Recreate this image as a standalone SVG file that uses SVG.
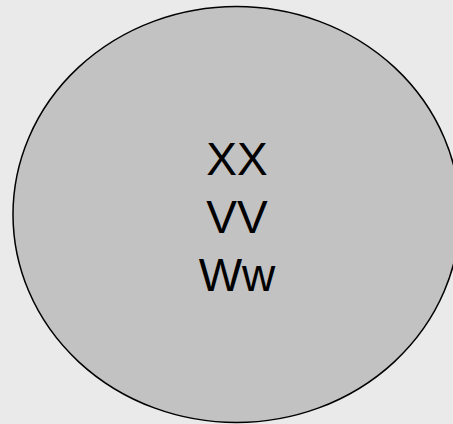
<svg xmlns="http://www.w3.org/2000/svg" width="453" height="424" viewBox="0 0 453 424">
<style>
.bg{fill:#eaeaea}
.shape{fill:#c2c2c2;stroke:#000;stroke-width:1.5}
.lbl{font-family:"Liberation Sans",Arial,sans-serif;font-size:46px;fill:#000;text-anchor:middle}
</style>
<rect class="bg" x="0" y="0" width="453" height="424"/>
<g id="node1">
<ellipse class="shape" cx="236.5" cy="214.5" rx="223.5" ry="208"/>
<text class="lbl" x="237" y="175">XX</text>
<text class="lbl" x="237" y="233">VV</text>
<text class="lbl" x="237" y="291">Ww</text>
</g>
<g id="connectors"/>
</svg>
